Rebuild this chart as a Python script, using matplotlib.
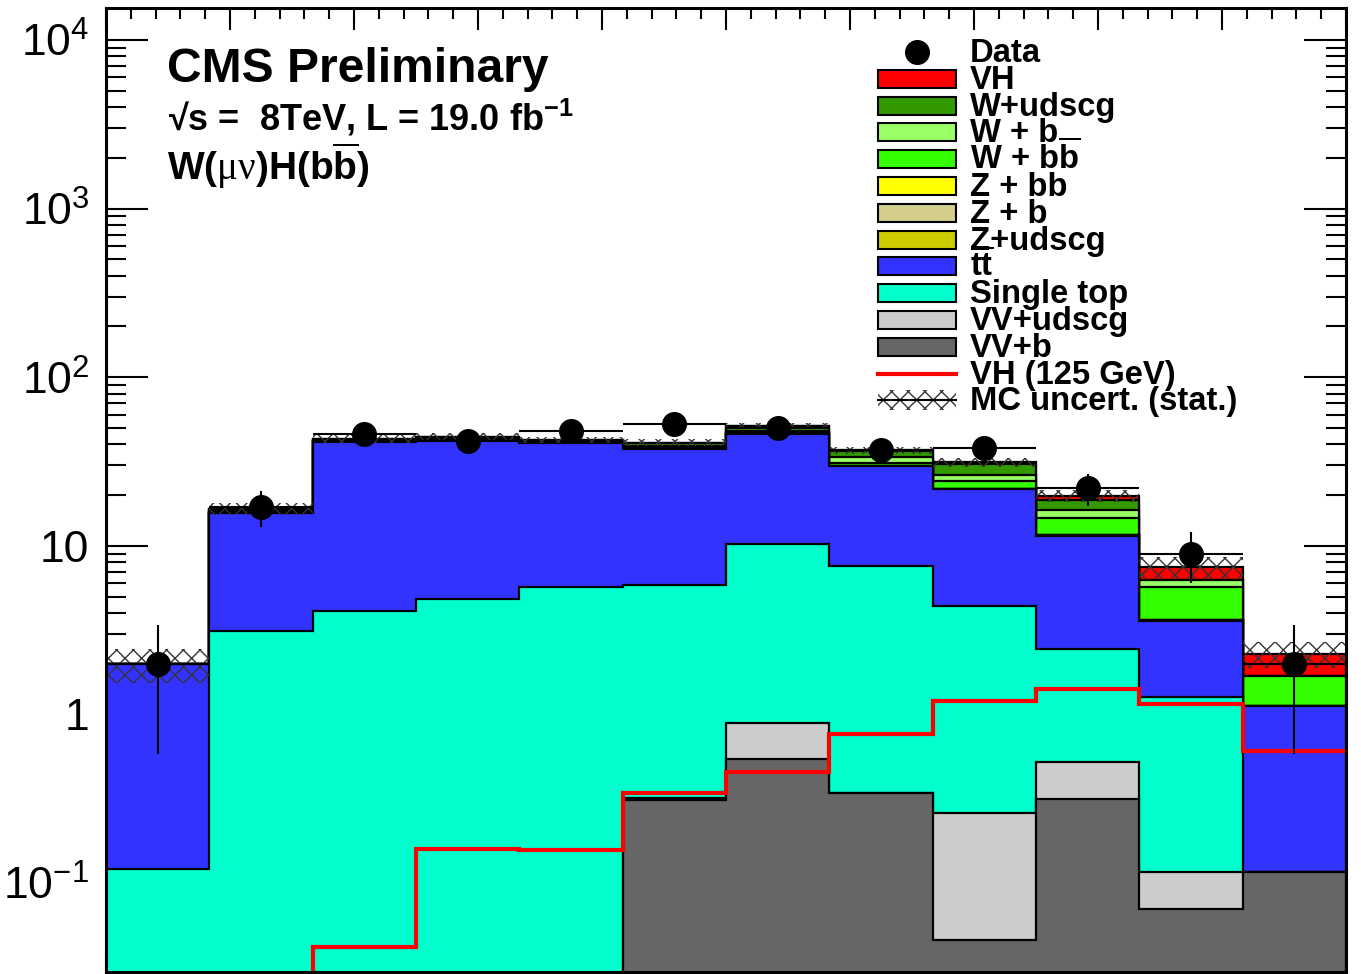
import numpy as np
import matplotlib
matplotlib.use('Agg')
import matplotlib.pyplot as plt
from matplotlib.patches import Rectangle
from matplotlib.lines import Line2D
from matplotlib.ticker import MultipleLocator, FixedLocator, LogLocator, NullFormatter

plt.rcParams['font.family'] = ['Liberation Sans', 'DejaVu Sans']
plt.rcParams['mathtext.fontset'] = 'custom'
plt.rcParams['mathtext.rm'] = 'Liberation Serif'
plt.rcParams['mathtext.it'] = 'Liberation Serif:italic'
plt.rcParams['mathtext.bf'] = 'Liberation Sans:bold'
plt.rcParams['mathtext.default'] = 'regular'
plt.rcParams['hatch.linewidth'] = 1.0

# 12 bins of the discriminant
edges = np.linspace(-1, 1, 13)

data = [2, 17, 46, 42, 48, 53, 50, 37, 38, 22, 9, 2]

# backgrounds, bottom of the stack first
vv_b     = [0.005, 0.005, 0.005, 0.005, 0.005, 0.311, 0.542, 0.344, 0.046, 0.314, 0.070, 0.117]
vv_udscg = [0.002, 0.002, 0.002, 0.002, 0.002, 0.010, 0.347, 0.0, 0.213, 0.206, 0.046, 0.0]
single_t = [0.114, 3.13, 4.12, 4.83, 5.71, 5.56, 9.31, 7.21, 4.16, 1.91, 1.15, 0.0]
ttbar    = [1.86, 12.5, 37.3, 37.6, 35.2, 31.4, 35.6, 22.0, 17.2, 9.07, 2.33, 1.01]
z_udscg  = [0.0, 0.05, 0.1, 0.1, 0.1, 0.1, 0.1, 0.1, 0.1, 0.05, 0.02, 0.0]
z_b      = [0.0, 0.02, 0.05, 0.05, 0.05, 0.05, 0.05, 0.05, 0.05, 0.03, 0.01, 0.0]
z_bb     = [0.0, 0.02, 0.05, 0.05, 0.05, 0.05, 0.05, 0.05, 0.05, 0.03, 0.01, 0.0]
w_bb     = [0.0, 0.3, 0.4, 0.5, 0.4, 0.8, 1.0, 1.1, 2.5, 3.1, 2.1, 0.56]
w_b      = [0.0, 0.2, 0.3, 0.4, 0.3, 0.7, 0.8, 2.8, 2.1, 1.7, 0.5, 0.0]
w_udscg  = [0.0, 0.4, 0.8, 0.7, 0.7, 1.8, 3.3, 2.9, 4.1, 2.2, 0.05, 0.0]
vh       = [0.0, 0.0, 0.02, 0.05, 0.05, 0.1, 0.4, 0.3, 0.9, 1.2, 1.2, 0.6]

# signal line and MC stat uncertainty
vh_125 = [0.005, 0.005, 0.0418, 0.160, 0.157, 0.34, 0.456, 0.769, 1.20, 1.42, 1.16, 0.607]
mc_err = [0.45, 1.3, 2.6, 2.2, 1.7, 2.0, 2.1, 1.9, 1.9, 1.6, 1.1, 0.4]

stack = [vv_b, vv_udscg, single_t, ttbar, z_udscg, z_b, z_bb, w_bb, w_b, w_udscg, vh]
stack_names = ['VV+b', 'VV+udscg', 'Single top', r't$\overline{t}$', 'Z+udscg', 'Z + b',
               'Z + bb', r'W + b$\overline{b}$', 'W + b', 'W+udscg', 'VH']
stack_colors = ['#666666', '#cccccc', '#00ffcc', '#3333ff', '#cccc00', '#d3cf8a',
                '#ffff00', '#33ff00', '#99ff66', '#339900', '#ff0000']

fig = plt.figure(figsize=(13.61, 9.74), dpi=100)
ax = fig.add_axes([106/1361, 2/974, 1240/1361, 964/974])
ax.set_yscale('log')

# ROOT-like stack: draw cumulative sums from the top down
cum = np.zeros(len(data))
tops = []
for vals in stack:
    cum = cum + np.array(vals)
    tops.append(cum.copy())
for top, col in reversed(list(zip(tops, stack_colors))):
    ax.stairs(top, edges, baseline=1e-4, fill=True, facecolor=col,
              edgecolor='black', lw=1.6, zorder=2)

total = tops[-1]
centers = 0.5 * (edges[:-1] + edges[1:])
binw = edges[1] - edges[0]
err = np.array(mc_err)
ax.bar(centers, 2 * err, bottom=total - err, width=binw, fill=False,
       hatch='xx', edgecolor='#333333', lw=0, zorder=3)

ax.stairs(vh_125, edges, baseline=None, color='red', lw=3, zorder=4)

ax.errorbar(centers, data, yerr=np.sqrt(data), xerr=binw / 2, fmt='o',
            color='black', ms=17, lw=1.5, capsize=0, zorder=5)

ax.set_xlim(-1, 1)
ax.set_ylim(0.0297, 15460)
ax.xaxis.set_major_locator(MultipleLocator(0.2))
ax.xaxis.set_minor_locator(MultipleLocator(0.04))
ax.yaxis.set_major_locator(FixedLocator([0.1, 1, 10, 100, 1000, 10000]))
ax.set_yticklabels(['$10^{-1}$', '1', '10', '$10^{2}$', '$10^{3}$', '$10^{4}$'])
ax.yaxis.set_minor_locator(LogLocator(base=10, subs=np.arange(2, 10), numticks=30))
ax.yaxis.set_minor_formatter(NullFormatter())
ax.tick_params(which='both', direction='in', top=True, right=True,
               labelbottom=False, width=1.5, color='black')
ax.tick_params(axis='x', which='major', length=16)
ax.tick_params(axis='x', which='minor', length=8)
ax.tick_params(axis='y', which='major', length=30, labelsize=32, pad=12)
ax.tick_params(axis='y', which='minor', length=14.5)
for sp in ax.spines.values():
    sp.set_linewidth(2.2)
    sp.set_zorder(6)


def fx(x):
    return x / 1361


def fy(y):
    return 1 - y / 974


fig.text(fx(167), fy(82), 'CMS Preliminary', fontsize=34.6, fontweight='bold')
fig.text(fx(168), fy(130), '√s =  8TeV, L = 19.0 fb$^{-1}$', fontsize=26, fontweight='bold')
fig.text(fx(167), fy(180), r'W($\mathrm{\mu\nu}$)H(b$\overline{b}$)', fontsize=28, fontweight='bold')

# legend, drawn by hand in ROOT layout
leg_labels = ['Data'] + stack_names[::-1] + ['VH (125 GeV)', 'MC uncert. (stat.)']
y0, dy = 52, 26.8
for i, lab in enumerate(leg_labels):
    yc = y0 + i * dy
    if i == 0:
        fig.add_artist(Line2D([fx(917)], [fy(yc)], marker='o', ms=17, color='black'))
    elif i <= len(stack_names):
        col = stack_colors[::-1][i - 1]
        fig.add_artist(Rectangle((fx(878), fy(yc + 9)), fx(78), 18 / 974,
                                 facecolor=col, edgecolor='black', lw=1.5))
    elif lab.startswith('VH'):
        fig.add_artist(Line2D([fx(878), fx(956)], [fy(yc), fy(yc)], color='red', lw=3))
    else:
        fig.add_artist(Rectangle((fx(878), fy(yc + 10)), fx(78), 20 / 974, fill=False,
                                 hatch='xx', edgecolor='#333333', lw=0))
        fig.add_artist(Line2D([fx(878), fx(956)], [fy(yc), fy(yc)], color='black', lw=1.5))
    fig.text(fx(970), fy(yc + 10), lab, fontsize=23.6, fontweight='bold', va='baseline')

fig.savefig('out.png', dpi=100)
